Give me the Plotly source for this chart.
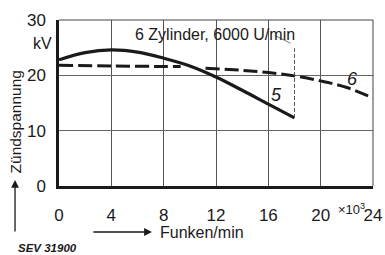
import plotly.graph_objects as go

# Curve 5 (solid)
x5 = [0, 2, 4, 6, 8, 10, 12, 14, 16, 18]
y5 = [22.8, 24.1, 24.6, 24.2, 23.1, 21.7, 19.7, 17.3, 14.8, 12.3]
# Curve 6 (dashed), gap where curve 5 crosses
x6 = [0, 4, 8, 9.3, None, 11.2, 14, 16, 18, 20, 22, 24]
y6 = [21.8, 21.7, 21.6, 21.6, None, 21.3, 20.9, 20.5, 19.9, 19.0, 17.8, 15.9]

xticks = [0, 4, 8, 12, 16, 20, 24]
yticks = [0, 10, 20, 30]

FONT = "Liberation Sans, Arial, sans-serif"
INK = "#1a1a1a"

fig = go.Figure()
fig.add_trace(go.Scatter(x=x5, y=y5, mode="lines", line=dict(color=INK, width=3.2, shape="spline"),
                         hoverinfo="skip"))
fig.add_trace(go.Scatter(x=x6, y=y6, mode="lines", connectgaps=False,
                         line=dict(color=INK, width=3, dash="14px,5px", shape="spline"),
                         hoverinfo="skip"))

# vertical marker at 18e3 Funken/min
fig.add_shape(type="line", x0=18, x1=18, y0=12.3, y1=24.9, line=dict(color="#555", width=1, dash="4px,2px"))
fig.add_shape(type="line", x0=16.5, x1=17.7, y0=27.2, y1=25.8, line=dict(color="#777", width=1))
# top & right frame
fig.add_shape(type="line", xref="paper", yref="paper", x0=0, x1=1, y0=1, y1=1, line=dict(color="#444", width=1))
fig.add_shape(type="line", xref="paper", yref="paper", x0=1, x1=1, y0=0, y1=1, line=dict(color="#444", width=1))

ann = [
    dict(x=11.9, y=27.4, text="6 Zylinder, 6000 U/min", size=16),
    dict(x=16.6, y=16.4, text="<i>5</i>", size=18),
    dict(x=22.4, y=19.4, text="<i>6</i>", size=18),
    dict(x=22.35, y=0, yshift=-23, text="×10<sup>3</sup>", size=13),
]
annotations = []
for a in ann:
    d = dict(xref="x", yref="y", showarrow=False, xanchor="center", yanchor="middle",
             font=dict(family=FONT, color=INK, size=a["size"]))
    d.update({k: v for k, v in a.items() if k != "size"})
    annotations.append(d)

annotations += [
    dict(xref="paper", yref="paper", x=-0.051, y=0.861, xanchor="center", yanchor="middle",
         text="kV", showarrow=False, font=dict(family=FONT, size=16, color=INK)),
    dict(xref="paper", yref="paper", x=-0.140, y=0.383, xanchor="center", yanchor="middle",
         text="Zündspannung", textangle=-90,
         showarrow=False, font=dict(family=FONT, size=15.5, color=INK)),
    dict(xref="paper", yref="paper", x=0.315, y=-0.283, xanchor="left", yanchor="middle", text="Funken/min",
         showarrow=False, font=dict(family=FONT, size=16, color=INK)),
    dict(xref="paper", yref="paper", x=-0.136, y=-0.373, xanchor="left", yanchor="middle",
         text="<b><i>SEV 31900</i></b>",
         showarrow=False, font=dict(family=FONT, size=11.5, color=INK)),
    # arrows
    dict(xref="paper", yref="paper", x=0.296, y=-0.277, ax=-60, ay=0,
         text="", showarrow=True, arrowhead=2, arrowsize=1.2, arrowwidth=1.3, arrowcolor=INK),
    dict(xref="paper", yref="paper", x=-0.140, y=0.036, ax=0, ay=53,
         text="", showarrow=True, arrowhead=2, arrowsize=1.2, arrowwidth=1.3, arrowcolor=INK),
]

fig.update_layout(
    width=385, height=255,
    margin=dict(l=59, r=12, t=20, b=69),
    paper_bgcolor="white", plot_bgcolor="white",
    showlegend=False,
    annotations=annotations,
    font=dict(family=FONT, color=INK),
    xaxis=dict(range=[0, 24], tickvals=xticks, ticktext=[str(v) for v in xticks], automargin=False,
               showgrid=True, gridcolor="#555", gridwidth=1,
               showline=True, linecolor=INK, linewidth=2.5, zeroline=False,
               ticks="", ticklabelstandoff=12, tickfont=dict(size=17, family=FONT, color=INK)),
    yaxis=dict(range=[0, 30], tickvals=yticks, ticktext=[str(v) for v in yticks], automargin=False,
               showgrid=True, gridcolor="#666", gridwidth=1,
               showline=True, linecolor=INK, linewidth=2.5, zeroline=False,
               ticks="", ticklabelstandoff=7, tickfont=dict(size=17, family=FONT, color=INK)),
)

fig.write_html("out.html", config={"displayModeBar": False},
               post_script="document.body.style.margin='0';document.body.style.overflow='hidden';")
